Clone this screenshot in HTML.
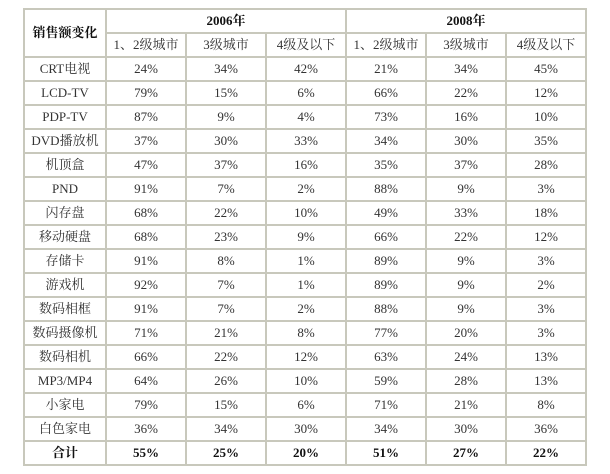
<!DOCTYPE html><html><head><meta charset="utf-8"><style>
body{margin:0;background:#fff;width:610px;height:474px;overflow:hidden}
table{position:absolute;left:23px;top:8px;border-collapse:collapse;font-family:"Liberation Serif","Noto Serif CJK SC","WenQuanYi Zen Hei",serif;font-size:13px;color:#333;table-layout:fixed}
td{border:2px solid #c8c8bc;text-align:center;height:22px;padding:0;line-height:16px}
.b{font-weight:bold;color:#111}
</style></head><body>
<table>
<colgroup><col style="width:82px"><col style="width:80px"><col style="width:80px"><col style="width:80px"><col style="width:80px"><col style="width:80px"><col style="width:80px"></colgroup>
<tr><td rowspan="2" class="b">销售额变化</td><td colspan="3" class="b">2006年</td><td colspan="3" class="b">2008年</td></tr>
<tr><td>1、2级城市</td><td>3级城市</td><td>4级及以下</td><td>1、2级城市</td><td>3级城市</td><td>4级及以下</td></tr>
<tr><td>CRT电视</td><td>24%</td><td>34%</td><td>42%</td><td>21%</td><td>34%</td><td>45%</td></tr>
<tr><td>LCD-TV</td><td>79%</td><td>15%</td><td>6%</td><td>66%</td><td>22%</td><td>12%</td></tr>
<tr><td>PDP-TV</td><td>87%</td><td>9%</td><td>4%</td><td>73%</td><td>16%</td><td>10%</td></tr>
<tr><td>DVD播放机</td><td>37%</td><td>30%</td><td>33%</td><td>34%</td><td>30%</td><td>35%</td></tr>
<tr><td>机顶盒</td><td>47%</td><td>37%</td><td>16%</td><td>35%</td><td>37%</td><td>28%</td></tr>
<tr><td>PND</td><td>91%</td><td>7%</td><td>2%</td><td>88%</td><td>9%</td><td>3%</td></tr>
<tr><td>闪存盘</td><td>68%</td><td>22%</td><td>10%</td><td>49%</td><td>33%</td><td>18%</td></tr>
<tr><td>移动硬盘</td><td>68%</td><td>23%</td><td>9%</td><td>66%</td><td>22%</td><td>12%</td></tr>
<tr><td>存储卡</td><td>91%</td><td>8%</td><td>1%</td><td>89%</td><td>9%</td><td>3%</td></tr>
<tr><td>游戏机</td><td>92%</td><td>7%</td><td>1%</td><td>89%</td><td>9%</td><td>2%</td></tr>
<tr><td>数码相框</td><td>91%</td><td>7%</td><td>2%</td><td>88%</td><td>9%</td><td>3%</td></tr>
<tr><td>数码摄像机</td><td>71%</td><td>21%</td><td>8%</td><td>77%</td><td>20%</td><td>3%</td></tr>
<tr><td>数码相机</td><td>66%</td><td>22%</td><td>12%</td><td>63%</td><td>24%</td><td>13%</td></tr>
<tr><td>MP3/MP4</td><td>64%</td><td>26%</td><td>10%</td><td>59%</td><td>28%</td><td>13%</td></tr>
<tr><td>小家电</td><td>79%</td><td>15%</td><td>6%</td><td>71%</td><td>21%</td><td>8%</td></tr>
<tr><td>白色家电</td><td>36%</td><td>34%</td><td>30%</td><td>34%</td><td>30%</td><td>36%</td></tr>
<tr class="b"><td>合计</td><td>55%</td><td>25%</td><td>20%</td><td>51%</td><td>27%</td><td>22%</td></tr>
</table>
</body></html>
